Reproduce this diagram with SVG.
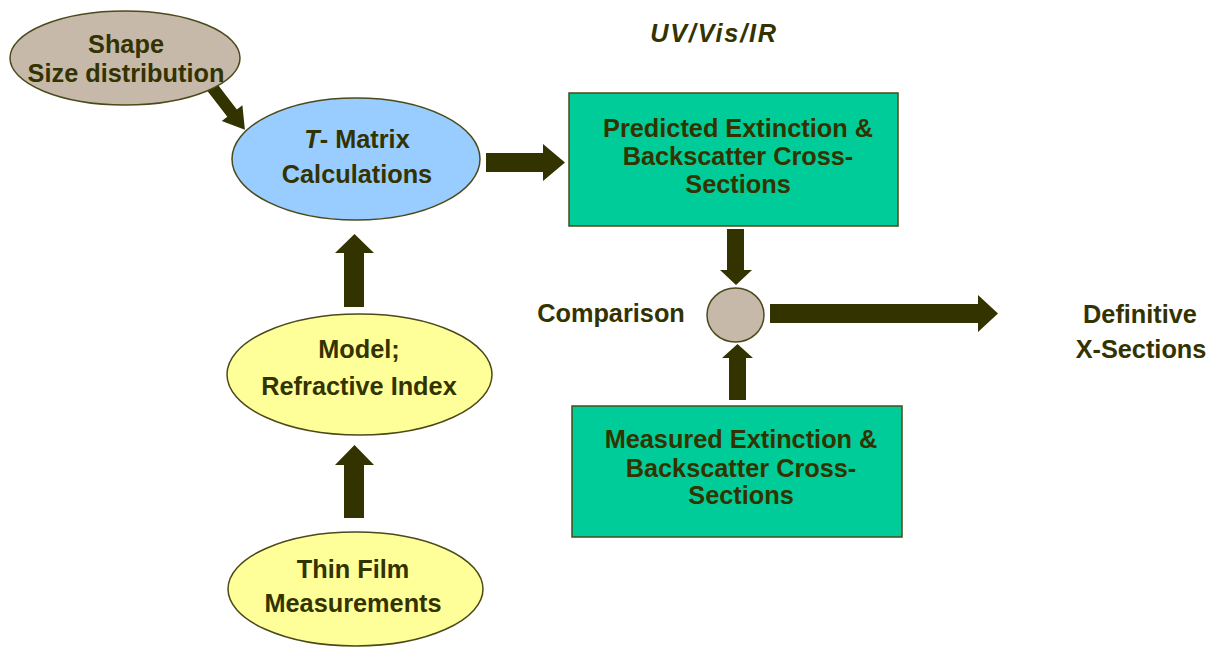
<svg xmlns="http://www.w3.org/2000/svg" width="1209" height="651" viewBox="0 0 1209 651">
<style>
text{font-family:"Liberation Sans",Arial,sans-serif;font-weight:bold;font-size:25.3px;fill:#333300;text-anchor:middle}
.shape{stroke:#4a4a1a;stroke-width:1.5}
.arrow{fill:#333300;stroke:none}
</style>
<rect width="1209" height="651" fill="#ffffff"/>
<g id="connectors">
<polygon class="arrow" transform="translate(212,87) rotate(52.5)" points="0,-6 33,-6 33,-13 54,0 33,13 33,6 0,6"/>
<polygon class="arrow" points="486,153 543,153 543,144 565,162.5 543,181 543,172 486,172"/>
<polygon class="arrow" points="727,229 744,229 744,270 752,270 736,285 720,270 727,270"/>
<polygon class="arrow" points="729,400 746,400 746,358 753,358 737.5,344 722,358 729,358"/>
<polygon class="arrow" points="770,304 978,304 978,295 998,313.5 978,332 978,323 770,323"/>
<polygon class="arrow" points="344,307 364,307 364,253 374,253 354.5,234 335,253 344,253"/>
<polygon class="arrow" points="344,518 364,518 364,465 374,465 354.5,445 335,465 344,465"/>
</g>
<g id="shape">
<ellipse class="shape" cx="125" cy="58" rx="115" ry="47" fill="#c6b9aa"/>
<text x="126" y="53">Shape</text>
<text x="126" y="82">Size distribution</text>
</g>
<g id="tmatrix">
<ellipse class="shape" cx="356" cy="159" rx="124" ry="61" fill="#99ccff"/>
<text x="357" y="148"><tspan font-style="italic">T</tspan>- Matrix</text>
<text x="357" y="183">Calculations</text>
</g>
<g id="model">
<ellipse class="shape" cx="359.5" cy="374.5" rx="132.5" ry="60.5" fill="#ffff99"/>
<text x="359" y="358">Model;</text>
<text x="359" y="395">Refractive Index</text>
</g>
<g id="thinfilm">
<ellipse class="shape" cx="355.5" cy="589" rx="127.5" ry="57" fill="#ffff99"/>
<text x="353" y="578">Thin Film</text>
<text x="353" y="612">Measurements</text>
</g>
<g id="predicted">
<rect class="shape" x="569" y="93" width="329" height="133" fill="#00cc99"/>
<text x="738" y="137">Predicted Extinction &amp;</text>
<text x="738" y="165">Backscatter Cross-</text>
<text x="738" y="193">Sections</text>
</g>
<g id="measured">
<rect class="shape" x="572" y="406" width="330" height="131" fill="#00cc99"/>
<text x="741" y="448">Measured Extinction &amp;</text>
<text x="741" y="477">Backscatter Cross-</text>
<text x="741" y="504">Sections</text>
</g>
<g id="comparison">
<ellipse class="shape" cx="735.5" cy="315" rx="28.5" ry="27" fill="#c6b9aa"/>
<text x="611" y="322">Comparison</text>
</g>
<g id="definitive">
<text x="1140" y="323">Definitive</text>
<text x="1141" y="358">X-Sections</text>
</g>
<g id="uvvisir">
<text x="714" y="42" font-style="italic" letter-spacing="1.8">UV/Vis/IR</text>
</g>
</svg>
